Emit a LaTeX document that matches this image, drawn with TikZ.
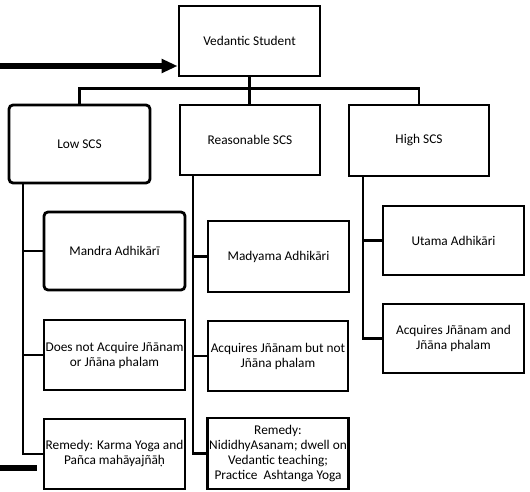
\documentclass[tikz,border=0pt]{standalone}
\usepackage{fontspec}
\setmainfont{Carlito}
\usetikzlibrary{arrows.meta}
\begin{document}
\begin{tikzpicture}[x=0.75pt,y=-0.75pt,
  box/.style={draw, line width=2.1pt, align=center, inner sep=1pt,
              font=\fontsize{10}{11.25}\selectfont},
  rbox/.style={box, rounded corners=3pt},
  sz/.style 2 args={minimum width=#1*0.75pt, minimum height=#2*0.75pt},
  link/.style={line width=2.1pt},
  heavy/.style={line width=3.8pt},
]
\useasboundingbox (0,0) rectangle (530,491);

% root and the three levels of SCS
\node[box, sz={141}{70}] (vs) at (249.5,41) {Vedantic Student};
\node[rbox, sz={141}{78}] (low) at (79.5,144) {Low SCS};
\node[box, sz={140}{70}] (rsn) at (250,140) {Reasonable SCS};
\node[box, sz={140}{71}] (high) at (419,140.5) {High SCS};

% low column
\node[rbox, sz={141}{78}] (mandra) at (114.5,251) {Mandra Adhikārī};
\node[box, sz={141}{70}] (dn) at (114.5,355) {Does not Acquire Jñānam\\or Jñāna phalam};
\node[box, sz={141}{70}] (rk) at (114.5,454) {Remedy: Karma Yoga and\\Pañca mahāyajñāḥ};

% reasonable column
\node[box, sz={141}{71}] (mad) at (278.5,256.5) {Madyama Adhikāri};
\node[box, sz={140}{70}] (acqn) at (278,356) {Acquires Jñānam but not\\Jñāna phalam};
\node[box, sz={140}{71}] (rn) at (278,453.5) {Remedy:\\NididhyAsanam; dwell on\\Vedantic teaching;\\Practice\ \ Ashtanga Yoga};

% high column
\node[box, sz={141}{69}] (utama) at (453.5,240.5) {Utama Adhikāri};
\node[box, sz={141}{69}] (acqa) at (453.5,338.5) {Acquires Jñānam and\\Jñāna phalam};

% tree from the root
\draw[link] (vs.south) -- (vs.south |- rsn.north);
\draw[link] (low.north) -- ++(0,-15) -| (high.north);

% column spines
\coordinate (L) at (23,0);
\coordinate (R) at (193,0);
\coordinate (H) at (363,0);

\draw[link] (low.south -| L) |- (rk.west);
\draw[link] (L |- mandra.west) -- (mandra.west);
\draw[link] (L |- dn.west) -- (dn.west);

\draw[link] (rsn.south -| R) |- (rn.west);
\draw[link] (R |- mad.west) -- (mad.west);
\draw[link] (R |- acqn.west) -- (acqn.west);

\draw[link] (high.south -| H) |- (acqa.west);
\draw[link] (H |- utama.west) -- (utama.west);

% heavy incoming arrow and outgoing stub
\coordinate (src) at (0,66);
\draw[heavy, -{Triangle[length=12pt,width=10pt]}] (src) -- (src -| vs.west);
\coordinate (sink) at (0,468);
\draw[heavy, shorten >=4pt] (sink) -- (sink -| rk.west);
\end{tikzpicture}
\end{document}
